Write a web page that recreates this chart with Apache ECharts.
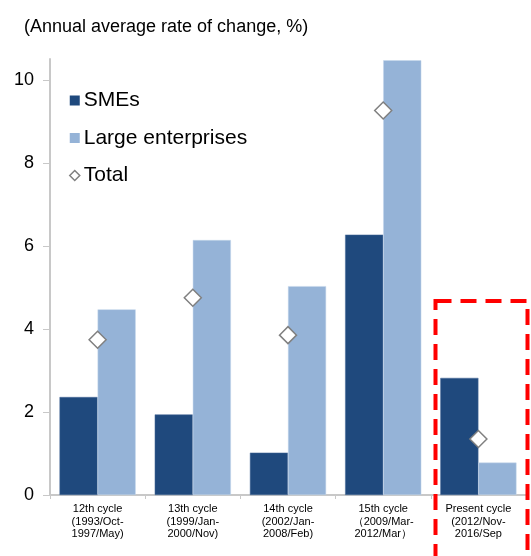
<!DOCTYPE html>
<html>
<head>
<meta charset="utf-8">
<script src="https://cdn.jsdelivr.net/npm/echarts@6/dist/echarts.min.js"></script>
<style>html,body{margin:0;padding:0;background:#fff}#c{width:531px;height:556px}</style>
</head>
<body>
<div id="c"></div>
<script>
const categories = [
  "12th cycle\n(1993/Oct-\n1997/May)",
  "13th cycle\n(1999/Jan-\n2000/Nov)",
  "14th cycle\n(2002/Jan-\n2008/Feb)",
  "15th cycle\n（2009/Mar-\n2012/Mar）",
  "Present cycle\n(2012/Nov-\n2016/Sep"
];
const smes = [2.36, 1.94, 1.02, 6.27, 2.82];
const large = [4.47, 6.14, 5.03, 10.47, 0.78];
const total = [3.74, 4.75, 3.85, 9.26, 1.35];
const yTicks = [0, 2, 4, 6, 8, 10];

const chart = echarts.init(document.getElementById('c'));
const font = 'Liberation Sans, Arial, sans-serif';
chart.setOption({
  animation: false,
  textStyle: { fontFamily: font },
  title: {
    text: '(Annual average rate of change, %)',
    left: 19, top: 13,
    textStyle: { fontSize: 18, fontWeight: 'normal', color: '#000', fontFamily: font }
  },
  legend: {
    orient: 'vertical',
    left: 64, top: 85,
    itemGap: 16.5,
    itemWidth: 10, itemHeight: 10,
    textStyle: { fontSize: 21, color: '#000', fontFamily: font, padding: [0, 0, 0, -1] },
    data: [
      { name: 'SMEs', icon: 'rect', itemStyle: { borderWidth: 0 } },
      { name: 'Large enterprises', icon: 'rect', itemStyle: { borderWidth: 0 } },
      { name: 'Total', icon: 'diamond', itemStyle: { color: '#fff', borderColor: '#808080', borderWidth: 1.5 } }
    ]
  },
  grid: { left: 50, right: 5, top: 59, bottom: 61, containLabel: false },
  xAxis: {
    type: 'category',
    data: categories,
    axisLine: { lineStyle: { color: '#c8c8c8', width: 2 } },
    axisTick: { show: true, alignWithLabel: false, length: 4, lineStyle: { color: '#c8c8c8' } },
    axisLabel: { fontSize: 11, color: '#000', lineHeight: 12.5, margin: 8, interval: 0, fontFamily: font }
  },
  yAxis: {
    type: 'value',
    min: 0, max: 10.5,
    axisLine: { show: true, lineStyle: { color: '#c8c8c8', width: 2 } },
    axisTick: { show: true, length: 7, inside: false, lineStyle: { color: '#c8c8c8' }, customValues: yTicks },
    axisLabel: { fontSize: 18, color: '#000', margin: 16, fontFamily: font, customValues: yTicks },
    splitLine: { show: false }
  },
  series: [
    {
      name: 'SMEs', type: 'bar', data: smes,
      barGap: '0%', barCategoryGap: '20%',
      itemStyle: { color: '#1f497d', borderColor: '#4a6d9a', borderWidth: 0.5 }
    },
    {
      name: 'Large enterprises', type: 'bar', data: large,
      itemStyle: { color: '#95b3d7', borderColor: '#c5d6ea', borderWidth: 0.5 }
    },
    {
      name: 'Total', type: 'scatter', data: total,
      symbol: 'diamond', symbolSize: [17, 17],
      itemStyle: { color: '#fff', borderColor: '#808080', borderWidth: 1.5, opacity: 1 },
      z: 5
    }
  ],
  graphic: [{
    type: 'rect',
    shape: { x: 435.5, y: 301, width: 92, height: 300 },
    style: { fill: 'none', stroke: '#ff0000', lineWidth: 4, lineDash: [16, 9] },
    z: 100
  }]
});
</script>
</body>
</html>
